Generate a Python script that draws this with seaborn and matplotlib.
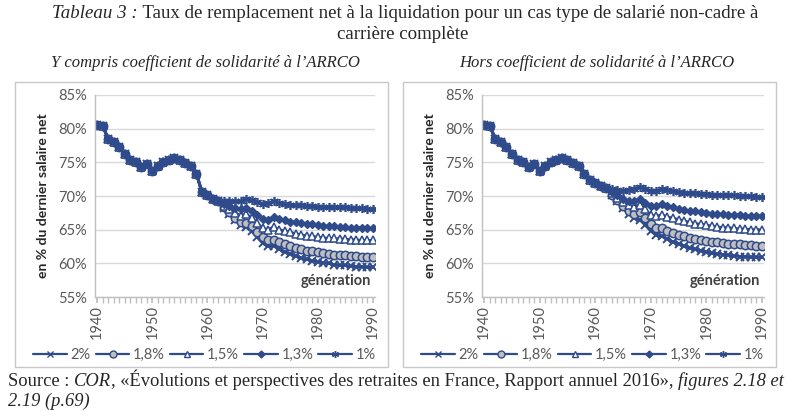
import numpy as np
import pandas as pd
import matplotlib
matplotlib.use("Agg")
import matplotlib.pyplot as plt
import seaborn as sns
from matplotlib.patches import Rectangle
from matplotlib.lines import Line2D

# Données (générations 1940 à 1990)
annees = list(range(1940, 1991))
series = ["2%", "1,8%", "1,5%", "1,3%", "1%"]

# partie commune aux deux panneaux, générations 1940-1958
commun_1940_1958 = [80.6, 80.4, 78.5, 78.0, 77.3, 76.3, 75.4, 75.1, 74.3, 74.8,
                    73.7, 74.4, 75.0, 75.3, 75.6, 75.3, 74.9, 74.4, 73.3]

# Y compris coefficient de solidarité : 1959-1962 commun puis 1963-1990 par série
gauche_1959_1962 = [70.6, 70.1, 69.6, 69.3]
gauche_2 = [68.2, 67.3, 66.4, 65.7, 65.4, 64.8, 63.9, 63.0, 62.5, 62.6, 62.1, 61.7, 61.4, 61.1,
            60.8, 60.6, 60.4, 60.2, 60.1, 60.0, 59.8, 59.7, 59.7, 59.6, 59.5, 59.5, 59.4, 59.4]
gauche_18 = [68.3, 67.6, 66.8, 66.2, 66.0, 65.5, 64.7, 63.9, 63.4, 63.5, 63.1, 62.8, 62.5, 62.3,
             62.1, 61.9, 61.8, 61.7, 61.5, 61.4, 61.3, 61.2, 61.2, 61.1, 61.1, 61.0, 61.0, 61.0]
gauche_15 = [68.5, 68.0, 67.5, 67.1, 67.3, 66.8, 66.0, 65.2, 65.0, 65.4, 65.0, 64.8, 64.6, 64.4,
             64.2, 64.1, 64.0, 63.9, 63.8, 63.7, 63.7, 63.6, 63.6, 63.5, 63.5, 63.4, 63.4, 63.4]
gauche_13 = [68.8, 68.5, 68.2, 68.0, 68.2, 67.8, 67.2, 66.6, 66.5, 66.9, 66.6, 66.4, 66.2, 66.1,
             66.0, 65.9, 65.8, 65.7, 65.6, 65.5, 65.5, 65.4, 65.4, 65.3, 65.3, 65.3, 65.2, 65.2]
gauche_1 = [69.3, 69.3, 69.2, 69.2, 69.6, 69.4, 69.1, 68.8, 68.9, 69.2, 68.9, 68.8, 68.7, 68.6,
            68.6, 68.5, 68.5, 68.4, 68.4, 68.4, 68.3, 68.3, 68.3, 68.2, 68.2, 68.2, 68.1, 68.1]

# Hors coefficient de solidarité
droite_1959_1962 = [72.4, 71.9, 71.5, 71.2]
droite_2 = [70.1, 69.2, 68.2, 67.3, 66.8, 66.5, 65.7, 64.8, 64.2, 64.0, 63.6, 63.2, 62.9, 62.6,
            62.3, 62.1, 61.9, 61.7, 61.5, 61.4, 61.3, 61.2, 61.1, 61.0, 61.0, 60.9, 60.9, 60.9]
droite_18 = [70.2, 69.4, 68.5, 67.7, 67.4, 67.6, 66.8, 65.8, 65.2, 65.2, 64.8, 64.5, 64.2, 64.0,
             63.8, 63.6, 63.5, 63.3, 63.2, 63.1, 63.0, 62.9, 62.8, 62.8, 62.7, 62.7, 62.6, 62.6]
droite_15 = [70.4, 69.7, 69.1, 68.6, 68.4, 68.7, 68.0, 67.2, 67.0, 67.2, 66.9, 66.7, 66.5, 66.3,
             66.1, 65.9, 65.8, 65.7, 65.5, 65.4, 65.3, 65.3, 65.2, 65.1, 65.1, 65.0, 65.0, 65.0]
droite_13 = [70.6, 70.1, 69.6, 69.2, 69.3, 69.5, 69.0, 68.5, 68.5, 68.8, 68.5, 68.3, 68.1, 67.9,
             67.8, 67.7, 67.6, 67.5, 67.4, 67.3, 67.3, 67.2, 67.2, 67.2, 67.1, 67.1, 67.1, 67.0]
droite_1 = [71.0, 70.9, 70.8, 70.9, 71.1, 71.4, 71.1, 70.8, 70.8, 71.1, 70.9, 70.7, 70.6, 70.5,
            70.4, 70.4, 70.3, 70.3, 70.2, 70.2, 70.1, 70.1, 70.1, 70.0, 70.0, 70.0, 69.9, 69.9]


def tableau(debut, queues):
    lignes = []
    for nom, queue in zip(series, queues):
        valeurs = commun_1940_1958 + debut + queue
        for a, v in zip(annees, valeurs):
            lignes.append({"generation": a, "taux": v, "serie": nom})
    return pd.DataFrame(lignes)


df_gauche = tableau(gauche_1959_1962, [gauche_2, gauche_18, gauche_15, gauche_13, gauche_1])
df_droite = tableau(droite_1959_1962, [droite_2, droite_18, droite_15, droite_13, droite_1])

bleu = "#2F4B8C"
styles = {
    "2%": dict(marker="x", markerfacecolor=bleu, markeredgecolor=bleu, markersize=5.5, markeredgewidth=1.4),
    "1,8%": dict(marker="o", markerfacecolor="#BFBFBF", markeredgecolor=bleu, markersize=6, markeredgewidth=1.1),
    "1,5%": dict(marker="^", markerfacecolor="white", markeredgecolor=bleu, markersize=6, markeredgewidth=1.1),
    "1,3%": dict(marker="D", markerfacecolor=bleu, markeredgecolor=bleu, markersize=4.3, markeredgewidth=1.0),
    "1%": dict(marker=(6, 2, 0), markerfacecolor=bleu, markeredgecolor=bleu, markersize=6.5, markeredgewidth=1.2),
}
# marqueurs plus petits dans la légende, comme dans l'original
styles_legende = {
    "2%": dict(marker="x", markersize=4, markeredgewidth=1.0),
    "1,8%": dict(marker="o", markerfacecolor="#BFBFBF", markersize=5, markeredgewidth=1.0),
    "1,5%": dict(marker="^", markerfacecolor="white", markersize=5, markeredgewidth=1.0),
    "1,3%": dict(marker="D", markersize=3.5),
    "1%": dict(marker=(6, 2, 0), markersize=5, markeredgewidth=1.0),
}

sns.set_theme(style="white")
plt.rcParams["font.family"] = ["Lato", "DejaVu Sans"]

fig = plt.figure(figsize=(7.88, 4.11), dpi=100)
W, H = 788, 411


def px_box(x0, y0, x1, y1):
    return [x0 / W, 1 - y1 / H, (x1 - x0) / W, (y1 - y0) / H]


# cadres gris autour des deux graphiques
for bx in (15, 403):
    fig.patches.append(Rectangle((bx / W, 1 - 367 / H), 373 / W, 285 / H, transform=fig.transFigure,
                                 fill=False, edgecolor="#C8C8C8", linewidth=1.0))

axes = [fig.add_axes(px_box(95, 95, 375, 297)), fig.add_axes(px_box(482, 95, 764, 297))]
centres = [(15 + 388) / 2 + 3, (403 + 776) / 2 + 3]

for ax, df, cx in zip(axes, [df_gauche, df_droite], centres):
    for nom in series:
        d = df[df["serie"] == nom]
        sns.lineplot(data=d, x="generation", y="taux", ax=ax, color=bleu, linewidth=2.0,
                     legend=False, **styles[nom])
    ax.set_xlim(1939.6, 1990.4)
    ax.set_ylim(55, 85)
    ax.set_yticks([55, 60, 65, 70, 75, 80, 85])
    ax.set_yticklabels([f"{v}%" for v in [55, 60, 65, 70, 75, 80, 85]], color="#595959", fontsize=10.5)
    ax.set_xticks([1940, 1950, 1960, 1970, 1980, 1990])
    ax.set_xticklabels(["1940", "1950", "1960", "1970", "1980", "1990"], rotation=90,
                       color="#595959", fontsize=10.5)
    ax.set_xticks(annees, minor=True)
    ax.tick_params(axis="x", which="both", direction="out", length=4, color="#BFBFBF", bottom=True, pad=2)
    ax.tick_params(axis="y", length=0, pad=6)
    ax.grid(axis="y", color="#D9D9D9", linewidth=1.0)
    ax.grid(axis="x", visible=False)
    for s in ["top", "right"]:
        ax.spines[s].set_visible(False)
    for s in ["left", "bottom"]:
        ax.spines[s].set_color("#BFBFBF")
        ax.spines[s].set_linewidth(1.0)
    ax.set_xlabel("")
    ax.set_ylabel("en % du dernier salaire net", fontsize=10, fontweight="bold", color="#262626", labelpad=6)
    ax.text(0.985, 0.08, "génération", transform=ax.transAxes, ha="right", va="center",
            fontsize=10.5, fontweight="bold", color="#404040")

    poignees = [Line2D([0], [0], color=bleu, linewidth=1.6, markerfacecolor=bleu, markeredgecolor=bleu)
                for nom in series]
    for p, nom in zip(poignees, series):
        p.set(**styles_legende[nom])
    fig.legend(poignees, series, loc="center", bbox_to_anchor=(cx / W, 1 - 355 / H), ncol=5,
               frameon=False, fontsize=10.5, handlelength=2.3, handletextpad=0.25, columnspacing=0.35,
               labelcolor="#595959")

# textes en serif, avec passages en italique
serif = ["Liberation Serif", "DejaVu Serif"]
rend = fig.canvas.get_renderer()


def ligne(morceaux, x, y, taille, centre=False):
    objets = []
    for texte, style in morceaux:
        t = fig.text(0, y / 1.0, texte, fontsize=taille, family=serif, style=style,
                     va="baseline", ha="left", transform=None)
        objets.append(t)
    largeurs = [t.get_window_extent(rend).width for t in objets]
    depart = x - sum(largeurs) / 2 if centre else x
    for t, l in zip(objets, largeurs):
        t.set_position((depart, H - y))
        depart += l


ligne([("Tableau 3 :", "italic"),
       (" Taux de remplacement net à la liquidation pour un cas type de salarié non-cadre à", "normal")],
      405, 18, 13.6, centre=True)
ligne([("carrière complète", "normal")], 403, 39, 13.6, centre=True)
ligne([("Y compris coefficient de solidarité à l’ARRCO", "italic")], 205, 67, 12, centre=True)
ligne([("Hors coefficient de solidarité à l’ARRCO", "italic")], 597, 67, 12, centre=True)
ligne([("Source : ", "normal"), ("COR", "italic"),
       (", «Évolutions et perspectives des retraites en France, Rapport annuel 2016», ", "normal"),
       ("figures 2.18 et", "italic")], 8, 386, 13.3)
ligne([("2.19 (p.69)", "italic")], 8, 406, 13.3)

fig.savefig("out.png", dpi=100)
